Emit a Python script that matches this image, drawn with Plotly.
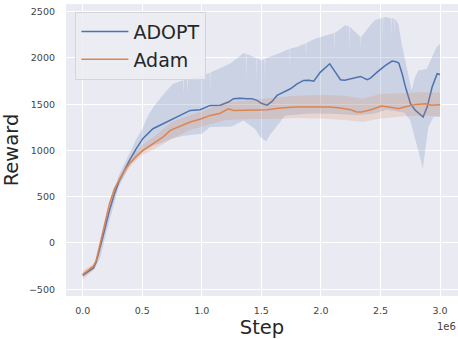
import plotly.graph_objects as go

# ---- data (steps in units of 1e6) ----
adopt_step = [0.0, 0.03, 0.06, 0.09, 0.113, 0.141, 0.169, 0.197, 0.225, 0.267, 0.309, 0.351,
              0.393, 0.45, 0.506, 0.59, 0.674, 0.758, 0.82, 0.903, 0.987, 1.071, 1.155, 1.223,
              1.267, 1.32, 1.38, 1.42, 1.464, 1.5, 1.548, 1.59, 1.632, 1.66, 1.744, 1.80, 1.855,
              1.90, 1.94, 1.996, 2.05, 2.074, 2.12, 2.164, 2.2, 2.248, 2.30, 2.332, 2.388, 2.416,
              2.472, 2.542, 2.598, 2.63, 2.654, 2.682, 2.71, 2.752, 2.794, 2.836, 2.858, 2.892,
              2.934, 2.976, 3.0]
adopt_mean = [-350, -320, -300, -270, -205, -79, 65, 209, 353, 533, 677, 785,
              893, 1019, 1130, 1235, 1289, 1340, 1380, 1433, 1440, 1487, 1490, 1523,
              1559, 1565, 1559, 1560, 1541, 1510, 1490, 1530, 1595, 1613, 1667, 1720, 1757,
              1760, 1749, 1847, 1910, 1937, 1850, 1764, 1760, 1775, 1790, 1800, 1764, 1782,
              1847, 1919, 1966, 1960, 1944, 1829, 1685, 1505, 1433, 1379, 1361, 1469,
              1685, 1829, 1820]

adopt_up_step = [0.0, 0.1, 0.15, 0.2, 0.3, 0.4, 0.45, 0.5, 0.55, 0.6, 0.65, 0.7, 0.76,
                 0.842, 0.845, 0.848, 0.877, 0.88, 0.883, 0.99, 1.067, 1.07, 1.073, 1.1, 1.24,
                 1.35, 1.37, 1.373, 1.376, 1.454, 1.457, 1.46, 1.5, 1.527, 1.53, 1.533, 1.65,
                 1.737, 1.74, 1.743, 1.8, 1.872, 1.875, 1.878, 1.95, 2.05, 2.112, 2.115, 2.118,
                 2.15, 2.2, 2.237, 2.24, 2.243, 2.25, 2.327, 2.33, 2.333, 2.34, 2.4, 2.45,
                 2.517, 2.52, 2.523, 2.55, 2.587, 2.59, 2.593, 2.61, 2.617, 2.62, 2.623, 2.65,
                 2.678, 2.72, 2.762, 2.79, 2.818, 2.888, 2.93, 2.972, 3.0]
adopt_upper = [-330, -240, -60, 260, 720, 980, 1120, 1230, 1380, 1480, 1560, 1640, 1720,
               1760, 1580, 1765, 1770, 1600, 1772, 1793, 1840, 1650, 1842, 1860, 1940,
               2050, 2045, 1757, 2045, 2000, 1770, 2000, 1975, 1990, 1770, 1995, 2050,
               2100, 1887, 2102, 2117, 2160, 2010, 2162, 2207, 2243, 2270, 2081, 2272,
               2300, 2352, 2340, 2050, 2338, 2330, 2235, 2081, 2235, 2225, 2333, 2405,
               2438, 2153, 2438, 2441, 2430, 2225, 2430, 2423, 2422, 2240, 2421, 2369,
               2153, 1900, 1649, 1793, 1865, 1880, 2009, 2117, 2153]

adopt_lo_step = [0.0, 0.1, 0.15, 0.2, 0.3, 0.4, 0.5, 0.6, 0.65, 0.75, 0.85, 1.0, 1.07, 1.2,
                 1.25, 1.35, 1.45, 1.49, 1.54, 1.58, 1.643, 1.70, 1.9, 2.1, 2.3, 2.45, 2.55,
                 2.65, 2.70, 2.75, 2.79, 2.832, 2.855, 2.874, 2.902, 2.944, 3.0]
adopt_lower = [-370, -280, -150, 120, 600, 850, 980, 1060, 1076, 1130, 1160, 1181, 1253, 1253,
               1260, 1325, 1230, 1145, 1100, 1180, 1289, 1379, 1400, 1397, 1380, 1400, 1440,
               1420, 1410, 1325, 1145, 929, 803, 1001, 1253, 1361, 1365]

adam_step = [0.0, 0.03, 0.06, 0.09, 0.113, 0.141, 0.169, 0.197, 0.225, 0.267, 0.309, 0.351,
             0.393, 0.45, 0.506, 0.59, 0.674, 0.735, 0.82, 0.903, 0.99, 1.071, 1.15, 1.223,
             1.267, 1.363, 1.45, 1.55, 1.643, 1.783, 1.9, 2.077, 2.16, 2.25, 2.30, 2.343,
             2.42, 2.51, 2.6, 2.651, 2.70, 2.75, 2.80, 2.88, 2.93, 3.0]
adam_mean = [-340, -310, -290, -250, -190, -40, 119, 281, 425, 587, 695, 785,
             857, 936, 1001, 1073, 1145, 1217, 1260, 1307, 1340, 1379, 1400, 1451,
             1433, 1433, 1440, 1440, 1455, 1469, 1470, 1469, 1460, 1440, 1415, 1415,
             1440, 1480, 1465, 1451, 1470, 1480, 1498, 1505, 1490, 1495]

adam_band_step = [0.0, 0.1, 0.15, 0.2, 0.3, 0.4, 0.5, 0.6, 0.75, 0.9, 1.0, 1.2, 1.4, 1.6, 1.8,
                  2.0, 2.2, 2.35, 2.5, 2.7, 2.85, 3.0]
adam_upper = [-300, -220, 0, 330, 700, 920, 1060, 1150, 1307, 1380, 1420, 1520, 1540, 1570,
              1590, 1600, 1590, 1560, 1610, 1625, 1630, 1625]
adam_lower = [-400, -280, -90, 230, 630, 830, 950, 1010, 1127, 1220, 1260, 1330, 1340, 1340,
              1350, 1345, 1330, 1307, 1345, 1370, 1379, 1370]

x_tickvals = [0.0, 0.5, 1.0, 1.5, 2.0, 2.5, 3.0]
x_ticktext = ["0.0", "0.5", "1.0", "1.5", "2.0", "2.5", "3.0"]
y_tickvals = [-500, 0, 500, 1000, 1500, 2000, 2500]
y_ticktext = ["\u2212500", "0", "500", "1000", "1500", "2000", "2500"]

BLUE = "#4C72B0"
ORANGE = "#DD8452"
BLUE_FILL = "rgba(76,114,176,0.2)"
ORANGE_FILL = "rgba(221,132,82,0.2)"

fig = go.Figure()
# ADOPT band
fig.add_trace(go.Scatter(x=adopt_lo_step, y=adopt_lower, mode="lines", line=dict(width=0),
                         showlegend=False, hoverinfo="skip"))
fig.add_trace(go.Scatter(x=adopt_up_step, y=adopt_upper, mode="lines", line=dict(width=0),
                         fill="tonexty", fillcolor=BLUE_FILL, showlegend=False, hoverinfo="skip"))
fig.add_trace(go.Scatter(x=adopt_step, y=adopt_mean, mode="lines", name="ADOPT",
                         line=dict(color=BLUE, width=1.5)))
# Adam band
fig.add_trace(go.Scatter(x=adam_band_step, y=adam_lower, mode="lines", line=dict(width=0),
                         showlegend=False, hoverinfo="skip"))
fig.add_trace(go.Scatter(x=adam_band_step, y=adam_upper, mode="lines", line=dict(width=0),
                         fill="tonexty", fillcolor=ORANGE_FILL, showlegend=False, hoverinfo="skip"))
fig.add_trace(go.Scatter(x=adam_step, y=adam_mean, mode="lines", name="Adam",
                         line=dict(color=ORANGE, width=1.5)))

FONT = "DejaVu Sans"
fig.update_layout(
    width=458, height=339,
    margin=dict(l=66, r=0, t=4, b=43, autoexpand=False),
    paper_bgcolor="white",
    plot_bgcolor="#EAEAF2",
    font=dict(family=FONT, color="#444444", size=9.5),
    showlegend=True,
    legend=dict(x=0.024, y=0.974, xanchor="left", yanchor="top",
                traceorder="normal", itemwidth=47,
                bgcolor="rgba(236,236,243,0.85)", bordercolor="#D4D4DC", borderwidth=1,
                font=dict(family=FONT, size=19, color="#262626"),
                tracegroupgap=0),
    xaxis=dict(range=[-0.14, 3.151], tickvals=x_tickvals, ticktext=x_ticktext,
               automargin=False,
               showgrid=True, gridcolor="white", gridwidth=1, zeroline=False,
               showline=False, ticks="", ticklabelstandoff=7,
               title=dict(text="Step", font=dict(family=FONT, size=19.5, color="#262626"),
                          standoff=8)),
    yaxis=dict(range=[-573, 2583], tickvals=y_tickvals, ticktext=y_ticktext,
               automargin=False,
               showgrid=True, gridcolor="white", gridwidth=1, zeroline=False,
               showline=False, ticks="", ticklabelstandoff=10,
               title=dict(text="Reward", font=dict(family=FONT, size=19.5, color="#262626"),
                          standoff=9)),
    annotations=[dict(text="1e6", xref="paper", yref="paper", x=1.0, y=-0.078,
                      xanchor="right", yanchor="top", showarrow=False,
                      font=dict(family=FONT, size=10, color="#444444"))],
)

fig.write_html("out.html", config={"displayModeBar": False},
               post_script="document.body.style.margin='0';document.body.style.overflow='hidden';")
